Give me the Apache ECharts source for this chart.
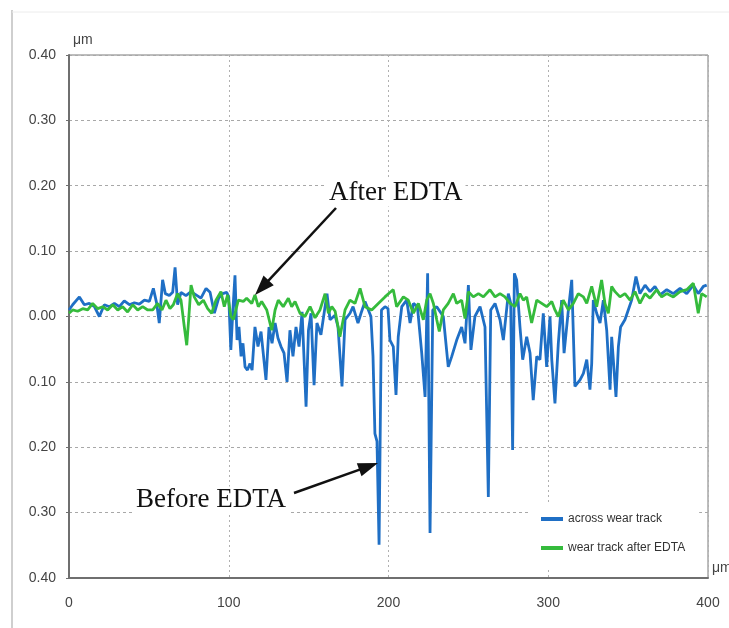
<!DOCTYPE html>
<html><head><meta charset="utf-8">
<script src="https://cdn.jsdelivr.net/npm/echarts@6/dist/echarts.min.js"></script>
<style>html,body{margin:0;padding:0;background:#fff}#c{width:729px;height:628px}</style>
</head><body><div id="c"></div>
<script>
const seriesNames = ['across wear track', 'wear track after EDTA'];
const yTicks = [-0.4, -0.3, -0.2, -0.1, 0, 0.1, 0.2, 0.3, 0.4];
const xTicks = [0, 100, 200, 300, 400];
const annotations = ['After EDTA', 'Before EDTA'];
const unitLabel = 'μm';

const acrossWearTrack = [[0,0.010],[2.3,0.018],[6.5,0.030],[9.6,0.018],[12.7,0.020],[15.9,0.015],[19.0,0.000],[22.1,0.018],[25.3,0.015],[28.4,0.020],[31.5,0.015],[34.6,0.024],[37.8,0.018],[40.9,0.021],[44.0,0.019],[47.2,0.025],[50.3,0.023],[52.8,0.043],[54.9,0.020],[56.5,-0.010],[58.6,0.056],[60.3,0.035],[62.8,0.032],[64.9,0.037],[66.4,0.075],[68.0,0.018],[70.1,0.037],[73.2,0.032],[76.4,0.038],[79.5,0.033],[82.6,0.028],[85.8,0.043],[88.3,0.037],[91.0,0.005],[93.7,0.028],[96.2,0.035],[98.7,0.037],[100.0,0.030],[101.3,-0.051],[102.6,0.010],[103.9,0.063],[105.2,-0.036],[106.4,-0.016],[107.7,-0.061],[108.9,-0.041],[110.2,-0.077],[111.7,-0.082],[113.3,-0.072],[114.6,-0.082],[116.4,-0.016],[118.3,-0.046],[120.2,-0.023],[123.3,-0.097],[125.2,-0.016],[127.1,-0.041],[129.0,-0.010],[130.8,-0.033],[132.7,-0.046],[134.6,-0.056],[136.5,-0.100],[138.3,-0.021],[140.2,-0.061],[142.1,-0.016],[144.0,-0.046],[145.9,0.007],[148.4,-0.138],[149.9,-0.021],[151.5,0.005],[153.4,-0.105],[155.2,-0.010],[157.7,-0.028],[161.5,0.035],[163.4,-0.005],[166.5,0.002],[168.4,-0.016],[170.9,-0.107],[172.8,-0.005],[175.9,0.005],[177.8,0.015],[180.9,-0.010],[182.8,0.005],[185.3,0.023],[189.0,0.000],[190.3,-0.061],[191.5,-0.179],[192.8,-0.191],[194.1,-0.349],[195.6,0.010],[197.8,0.015],[199.7,0.012],[200.9,-0.036],[203.0,-0.046],[204.7,-0.120],[206.1,-0.031],[208.3,0.015],[211.4,0.025],[213.5,-0.010],[215.6,0.020],[218.1,0.015],[220.8,-0.056],[222.9,-0.123],[224.5,0.066],[226.0,-0.331],[227.7,0.010],[230.2,0.015],[234.3,0.000],[237.4,-0.077],[239.6,-0.061],[242.7,-0.036],[245.8,-0.016],[247.9,-0.041],[250.0,0.048],[251.6,-0.051],[254.1,0.000],[257.3,0.015],[260.4,-0.016],[262.5,-0.276],[264.0,0.010],[266.7,0.020],[269.8,-0.005],[271.9,-0.036],[275.0,0.035],[276.5,0.020],[277.7,-0.204],[278.8,0.066],[280.2,0.056],[282.3,-0.016],[284.0,-0.066],[286.5,-0.031],[288.6,-0.056],[290.6,-0.128],[292.8,-0.061],[294.8,-0.066],[296.9,0.005],[299.0,-0.077],[301.1,0.000],[302.2,-0.066],[304.2,-0.133],[306.3,-0.041],[308.4,0.025],[309.9,-0.056],[312.6,0.010],[314.7,0.056],[316.7,-0.107],[319.9,-0.097],[322.0,-0.087],[324.1,-0.066],[326.1,-0.112],[327.2,-0.072],[328.2,0.025],[330.3,0.005],[332.4,-0.010],[334.5,0.025],[336.6,-0.021],[338.7,-0.112],[339.7,-0.031],[342.4,-0.123],[343.9,-0.046],[345.3,-0.016],[348.0,-0.005],[350.1,0.010],[352.2,0.025],[354.9,0.061],[357.4,0.035],[360.6,0.048],[363.7,0.038],[366.8,0.046],[370.0,0.033],[374.2,0.041],[378.3,0.035],[382.5,0.043],[386.7,0.035],[390.8,0.048],[393.9,0.035],[397.1,0.046],[399.2,0.048]];

const afterEdta = [[0,0.005],[2.3,0.010],[5.4,0.008],[8.6,0.012],[11.7,0.010],[14.8,0.020],[18.0,0.012],[21.1,0.015],[24.2,0.010],[27.4,0.018],[30.5,0.010],[33.6,0.015],[36.7,0.007],[39.9,0.018],[43.0,0.010],[46.1,0.015],[49.3,0.010],[52.4,0.010],[55.5,0.020],[58.2,0.010],[60.7,0.025],[63.2,0.012],[65.3,0.018],[68.0,0.035],[70.1,0.025],[72.2,-0.016],[73.7,-0.044],[74.9,-0.005],[76.4,0.048],[78.4,0.030],[81.2,0.018],[84.1,0.025],[86.8,0.012],[89.3,0.005],[92.0,0.025],[95.1,0.038],[97.2,0.015],[99.3,0.033],[101.4,0.000],[102.9,-0.005],[106.0,0.025],[109.1,0.023],[111.2,0.028],[114.4,0.020],[116.4,0.033],[118.5,0.015],[120.6,0.023],[123.8,0.010],[126.9,-0.021],[129.0,0.010],[131.0,0.025],[134.1,0.015],[137.3,0.028],[139.4,0.015],[141.5,0.023],[144.6,0.005],[147.7,0.000],[150.9,0.015],[154.0,-0.002],[157.1,0.010],[160.3,0.035],[162.4,0.005],[164.5,0.015],[166.6,0.008],[169.6,-0.031],[172.8,0.010],[175.9,0.025],[179.0,0.020],[182.2,0.043],[185.3,0.015],[189.5,0.010],[193.6,0.020],[197.8,0.030],[200.5,0.036],[203.0,0.041],[205.1,0.015],[209.3,0.030],[212.4,0.025],[215.6,0.005],[218.7,0.020],[221.8,-0.005],[223.9,0.025],[226.0,0.035],[228.1,0.020],[230.2,-0.005],[231.8,-0.023],[234.3,0.010],[237.4,0.020],[240.6,0.035],[242.7,0.020],[245.8,0.025],[247.9,-0.003],[250.0,0.038],[253.1,0.030],[256.3,0.035],[259.4,0.030],[263.5,0.041],[266.7,0.030],[269.8,0.035],[272.9,0.030],[276.1,0.020],[279.2,0.015],[282.3,0.035],[284.4,0.025],[286.5,0.030],[289.6,-0.010],[292.8,0.025],[295.9,0.020],[299.0,0.015],[302.2,0.023],[304.2,0.010],[306.3,0.000],[309.4,0.025],[312.6,0.010],[315.7,0.020],[318.8,0.035],[322.0,0.030],[324.1,0.020],[327.2,0.046],[330.3,0.015],[333.4,0.056],[335.5,0.020],[337.6,0.005],[339.7,0.046],[341.8,0.038],[344.9,0.030],[348.0,0.035],[351.2,0.025],[354.3,0.038],[357.4,0.020],[360.6,0.035],[363.7,0.028],[367.9,0.041],[371.0,0.030],[374.2,0.035],[378.3,0.030],[382.5,0.038],[386.7,0.041],[390.8,0.051],[393.9,0.005],[396.0,0.035],[399.2,0.030]];

const chart = echarts.init(document.getElementById('c'), null, {renderer: 'canvas'});

function arrow(x1, y1, x2, y2) {
  const dx = x2 - x1, dy = y2 - y1, L = Math.hypot(dx, dy);
  const ux = dx / L, uy = dy / L, hl = 20, hw = 7;
  const bx = x2 - ux * hl, by = y2 - uy * hl;
  return [
    {type: 'line', shape: {x1: x1, y1: y1, x2: bx + ux * 2, y2: by + uy * 2}, style: {stroke: '#111', lineWidth: 2.5}, z: 100},
    {type: 'polygon', shape: {points: [[x2, y2], [bx - uy * hw, by + ux * hw], [bx + uy * hw, by - ux * hw]]}, style: {fill: '#111'}, z: 100}
  ];
}

const textFont = '"Liberation Sans", Arial, sans-serif';

chart.setOption({
  animation: false,
  backgroundColor: '#fff',
  grid: {left: 69, right: 21, top: 55, bottom: 50, show: true, borderColor: '#7a7a7a', borderWidth: 1,
    containLabel: false, outerBoundsMode: 'none'},
  legend: {
    data: seriesNames,
    orient: 'vertical',
    left: 530, top: 503,
    padding: [10, 14, 15, 11],
    backgroundColor: '#fff',
    itemGap: 17,
    itemWidth: 22, itemHeight: 4,
    icon: 'rect',
    textStyle: {fontSize: 12, color: '#333', fontFamily: textFont}
  },
  xAxis: {
    type: 'value', min: xTicks[0], max: xTicks[xTicks.length - 1], interval: 100,
    name: unitLabel, nameLocation: 'end', nameGap: 4,
    nameTextStyle: {fontSize: 14, color: '#444', fontFamily: textFont, verticalAlign: 'bottom', align: 'left', padding: [0, 0, 3, 0]},
    axisLine: {onZero: false, lineStyle: {color: '#6f6f6f', width: 2}},
    axisTick: {show: false},
    axisLabel: {fontSize: 14, color: '#444', fontFamily: textFont, margin: 18},
    splitLine: {show: true, lineStyle: {color: '#b0b0b0', type: [2, 3], width: 1}}
  },
  yAxis: {
    type: 'value', min: yTicks[0], max: yTicks[yTicks.length - 1], interval: 0.1,
    name: unitLabel, nameLocation: 'end', nameGap: 8,
    nameTextStyle: {fontSize: 14, color: '#444', fontFamily: textFont, align: 'left', padding: [0, 0, 0, 4]},
    axisLine: {onZero: false, lineStyle: {color: '#6f6f6f', width: 2}},
    axisTick: {show: true, length: 3, lineStyle: {color: '#6f6f6f'}},
    axisLabel: {fontSize: 14, color: '#444', fontFamily: textFont, margin: 13,
      formatter: v => Math.abs(v).toFixed(2)},
    splitLine: {show: true, lineStyle: {color: '#a8a8a8', type: [3, 3], width: 1}}
  },
  series: [
    {name: seriesNames[0], type: 'line', data: acrossWearTrack, showSymbol: false, symbol: 'none',
      lineStyle: {color: '#1f6fc5', width: 2.8}, itemStyle: {color: '#1f6fc5'}, z: 2},
    {name: seriesNames[1], type: 'line', data: afterEdta, showSymbol: false, symbol: 'none',
      lineStyle: {color: '#35bb3c', width: 2.8}, itemStyle: {color: '#35bb3c'}, z: 3}
  ],
  graphic: [
    {type: 'line', shape: {x1: 12, y1: 10, x2: 12, y2: 628}, style: {stroke: '#cfcfcf', lineWidth: 2}},
    {type: 'line', shape: {x1: 12, y1: 12, x2: 729, y2: 12}, style: {stroke: '#ececec', lineWidth: 1}},
    {type: 'text', x: 326, y: 193, z: 99, style: {text: annotations[0], font: '27px "Liberation Serif", "Times New Roman", serif', fill: '#111', textVerticalAlign: 'middle', backgroundColor: '#fff', padding: [0, 3]}},
    {type: 'text', x: 133, y: 500, z: 99, style: {text: annotations[1], font: '27px "Liberation Serif", "Times New Roman", serif', fill: '#111', textVerticalAlign: 'middle', backgroundColor: '#fff', padding: [0, 3]}}
  ].concat(arrow(336, 208, 255, 295)).concat(arrow(294, 493, 378, 463))
});
</script>
</body></html>
